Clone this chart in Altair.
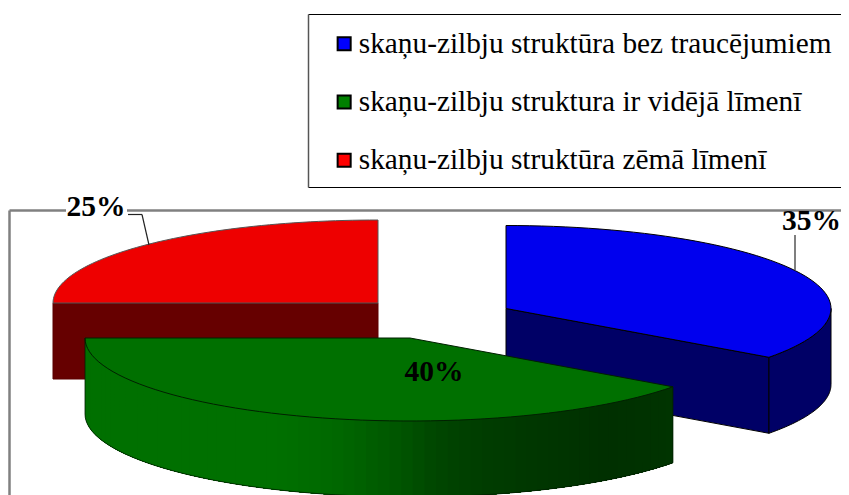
import math
import altair as alt
import pandas as pd

CATEGORIES = [
    "skaņu-zilbju struktūra bez traucējumiem",
    "skaņu-zilbju struktura ir vidējā līmenī",
    "skaņu-zilbju struktūra zēmā līmenī",
]
SHARES = [35, 40, 25]
LABELS = ["35%", "40%", "25%"]
LEGEND_COLORS = ["#0000FF", "#008000", "#FF0000"]
TOP_COLORS = ["#0000EE", "#007000", "#EE0000"]
SIDE_COLORS = ["#000066", "#006F00", "#660000"]

OX, OY = 8, 8          # page margin
W, H = 833, 487
A, B, DEPTH = 325, 83, 76
CENTERS = [(506, 308.5), (410, 338), (378, 303)]
LABEL_POS = [(811.5, 221), (434, 372), (96, 207)]
GREEN_STOPS = [(85, (0, 112, 0)), (270, (0, 112, 0)), (330, (0, 104, 0)), (385, (0, 88, 0)),
               (430, (0, 70, 0)), (480, (0, 60, 0)), (600, (0, 48, 0)), (673, (0, 52, 0))]


def pt(c, deg, dz=0):
    r = math.radians(deg)
    return (c[0] + A * math.sin(r) - OX, c[1] - B * math.cos(r) + dz - OY)


def arc(c, a0, a1, dz=0, n=60):
    return [pt(c, a0 + (a1 - a0) * i / n, dz) for i in range(n + 1)]


def poly(points, fill, stroke):
    pts = [list(p) for p in points]
    if pts[0] != pts[-1]:
        pts.append(pts[0])
    return {"type": "Feature", "geometry": {"type": "Polygon", "coordinates": [pts]},
            "properties": {"fill": fill, "stroke": stroke}}


def green_col(x):
    for (x0, c0), (x1, c1) in zip(GREEN_STOPS, GREEN_STOPS[1:]):
        if x0 <= x <= x1:
            t = (x - x0) / (x1 - x0)
            return "#%02x%02x%02x" % tuple(round(a + (b - a) * t) for a, b in zip(c0, c1))
    return "#003400"


# slice angles from the shares: clockwise from 12 o'clock
edges = [0]
for s in SHARES:
    edges.append(edges[-1] + s * 3.6)
blue = (edges[0], edges[1])
green = (edges[1], edges[2])
red = (edges[2], edges[3])
cb, cg, cr = CENTERS
EDGE = "#000000"

features = []
# red
c_xy = (cr[0] - OX, cr[1] - OY)
left = pt(cr, red[0])
features.append(poly([left, c_xy, (c_xy[0], c_xy[1] + DEPTH), (left[0], left[1] + DEPTH)], SIDE_COLORS[2], "#5a0000"))
features.append(poly(arc(cr, *red) + [c_xy], TOP_COLORS[2], "#555555"))
# blue
c_xy = (cb[0] - OX, cb[1] - OY)
end = pt(cb, blue[1])
features.append(poly([c_xy, end, (end[0], end[1] + DEPTH), (c_xy[0], c_xy[1] + DEPTH)], SIDE_COLORS[0], EDGE))
features.append(poly(arc(cb, 90, blue[1]) + arc(cb, blue[1], 90, DEPTH), SIDE_COLORS[0], EDGE))
features.append(poly(arc(cb, *blue) + [c_xy], TOP_COLORS[0], EDGE))
# green side: overlapping bands painted left to right, so no seams show
n = 70
for i in range(n):
    a0 = green[1] + (green[0] - green[1]) * i / n
    a1 = green[0]
    p0 = pt(cg, a0)
    col = green_col(p0[0] + OX)
    features.append(poly(arc(cg, a0, a1, 0, 40) + arc(cg, a1, a0, DEPTH, 40), col, "transparent"))
c_xy = (cg[0] - OX, cg[1] - OY)
features.append(poly(arc(cg, *green) + [c_xy], TOP_COLORS[1], "#002000"))

PROJ = alt.Projection(type="identity", scale=1, translate=[0, 0])
fc = alt.InlineData(values={"type": "FeatureCollection", "features": features},
                    format=alt.DataFormat(property="features", type="json"))
faces = alt.Chart(fc).mark_geoshape(strokeWidth=1).encode(
    fill=alt.Fill("properties.fill:N", scale=None),
    stroke=alt.Stroke("properties.stroke:N", scale=None),
).project(**PROJ.to_dict())

outline = arc(cg, green[0], green[1], DEPTH)
line_fc = alt.InlineData(values={"type": "FeatureCollection", "features": [
    {"type": "Feature", "properties": {},
     "geometry": {"type": "LineString", "coordinates": [[pt(cg, green[0])[0], pt(cg, green[0])[1]]] + [list(p) for p in outline] + [[pt(cg, green[1])[0], pt(cg, green[1])[1]]]}}]},
    format=alt.DataFormat(property="features", type="json"))
green_outline = alt.Chart(line_fc).mark_geoshape(filled=False, stroke="#002000", strokeWidth=0.8).project(**PROJ.to_dict())


def rule(x0, y0, x1, y1, color, width):
    return alt.Chart(pd.DataFrame({"a": [0]})).mark_rule(color=color, strokeWidth=width).encode(
        x=alt.value(x0 - OX), x2=alt.value(x1 - OX), y=alt.value(y0 - OY), y2=alt.value(y1 - OY))


frame = [
    rule(9.5, 210.5, 860, 210.5, "#808080", 2.5),
    rule(9.5, 210.5, 9.5, 500, "#808080", 2.5),
]
legend_box = [
    rule(308.5, 14.5, 860, 14.5, "#000000", 1),
    rule(308.5, 187.5, 860, 187.5, "#000000", 1),
    rule(308.5, 14.5, 308.5, 187.5, "#555555", 1.5),
]
leaders = [
    rule(128, 214.5, 142, 214.5, "#222222", 1.2),
    rule(142, 214.5, 149, 245, "#222222", 1.2),
    rule(795, 235, 795, 270, "#555555", 1.5),
]
mask = alt.Chart(pd.DataFrame({"a": [0]})).mark_rect(color="white").encode(
    x=alt.value(66 - OX), x2=alt.value(127 - OX), y=alt.value(196 - OY), y2=alt.value(218 - OY))

texts = []
for lab, (x, y) in zip(LABELS, LABEL_POS):
    texts.append(alt.Chart(pd.DataFrame({"t": [lab]})).mark_text(
        font="Liberation Serif", fontWeight="bold", fontSize=29.5, color="black",
        align="center", baseline="middle").encode(text="t:N", x=alt.value(x - OX), y=alt.value(y - OY)))

legend_src = alt.Chart(pd.DataFrame({"c": CATEGORIES})).mark_square(opacity=0, size=10).encode(
    x=alt.value(-50), y=alt.value(-50),
    color=alt.Color("c:N", title=None, sort=CATEGORIES,
                    scale=alt.Scale(domain=CATEGORIES, range=LEGEND_COLORS),
                    legend=alt.Legend(orient="none", legendX=329.5 - OX, legendY=29 - OY, padding=0,
                                      symbolType="square", symbolSize=170, symbolOpacity=1,
                                      symbolStrokeColor="black", symbolStrokeWidth=2,
                                      labelFont="Liberation Serif", labelFontSize=29.3, labelColor="black",
                                      labelLimit=600, labelOffset=0, rowPadding=28.3, labelOverlap=False)),
)

chart = alt.layer(*frame, *legend_box, faces, green_outline, mask, *leaders, *texts, legend_src).properties(
    width=W, height=H, padding=0, autosize=alt.AutoSizeParams(type="none"),
).configure_view(stroke=None, clip=False).configure_legend(labelFont="Liberation Serif", labelFontSize=29.3)

chart.save("out.html", embed_options={"renderer": "svg", "actions": False})
